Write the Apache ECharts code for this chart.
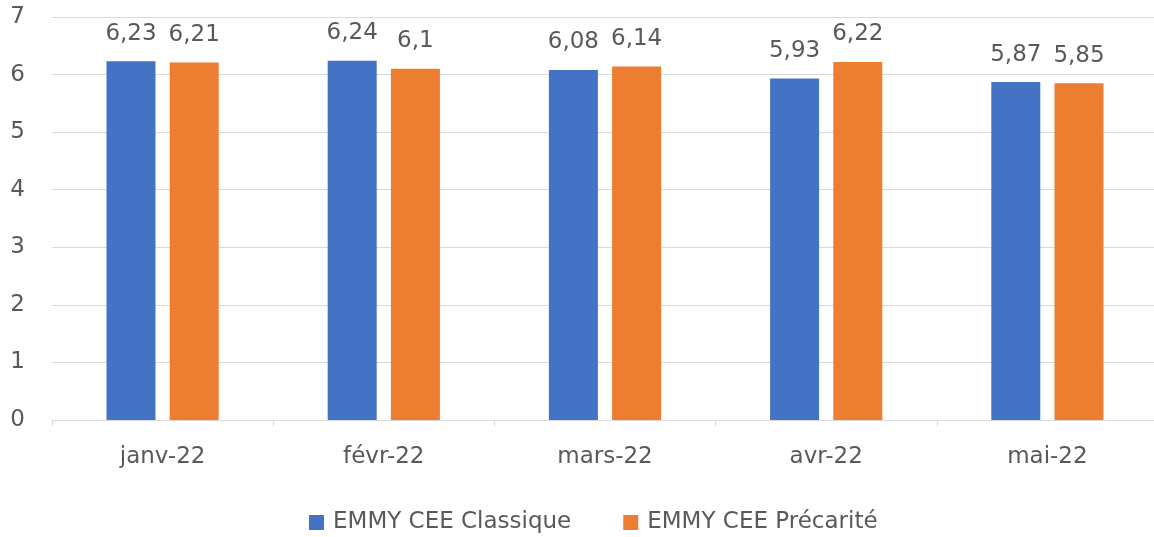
<!DOCTYPE html>
<html>
<head>
<meta charset="utf-8">
<script src="https://cdn.jsdelivr.net/npm/echarts@6/dist/echarts.min.js"></script>
<style>
    html, body { margin: 0; padding: 0; background: #fff; overflow: hidden; }
    #chart { width: 1158px; height: 537px; }
</style>
</head>
<body>
<div id="chart"></div>
<script>

const months = ['janv-22', 'févr-22', 'mars-22', 'avr-22', 'mai-22'];
const classique = [6.23, 6.24, 6.08, 5.93, 5.87];
const precarite = [6.21, 6.1, 6.14, 6.22, 5.85];
const yTicks = [0, 1, 2, 3, 4, 5, 6, 7];

const font = '"DejaVu Sans", "Noto Sans", sans-serif';
const textColor = '#595959';

const chart = echarts.init(document.getElementById('chart'));

const barLabel = {
    show: true,
    position: 'top',
    distance: 16,
    color: textColor,
    fontSize: 23,
    fontFamily: font,
    formatter: p => String(p.value).replace('.', ',')
};

const option = {
    animation: false,
    textStyle: { fontFamily: font },
    grid: {
        left: 52,
        right: 0,
        top: 17,
        bottom: 117
    },
    legend: {
        bottom: -2,
        left: 304,
        icon: 'rect',
        itemWidth: 15,
        itemHeight: 15,
        itemGap: 52,
        textStyle: { color: textColor, fontSize: 23, fontFamily: font, padding: [0, 0, 0, 4] }
    },
    xAxis: {
        type: 'category',
        data: months,
        axisLine: { lineStyle: { color: '#d9d9d9', width: 1 } },
        axisTick: { show: true, length: 6, lineStyle: { color: '#d9d9d9' } },
        axisLabel: { color: textColor, fontSize: 23, fontFamily: font, margin: 26 }
    },
    yAxis: {
        type: 'value',
        min: yTicks[0],
        max: yTicks[yTicks.length - 1],
        interval: 1,
        axisLine: { show: false },
        axisTick: { show: false },
        splitLine: { lineStyle: { color: '#d9d9d9', width: 1 } },
        axisLabel: { color: textColor, fontSize: 23, fontFamily: font, margin: 27 }
    },
    series: [
        {
            name: 'EMMY CEE Classique',
            type: 'bar',
            data: classique,
            barWidth: 49,
            barGap: '29%',
            itemStyle: { color: '#4472C4' },
            label: barLabel
        },
        {
            name: 'EMMY CEE Précarité',
            type: 'bar',
            data: precarite,
            barWidth: 49,
            barGap: '29%',
            itemStyle: { color: '#ED7D31' },
            label: barLabel
        }
    ]
};

option && chart.setOption(option);

</script>
</body>
</html>
